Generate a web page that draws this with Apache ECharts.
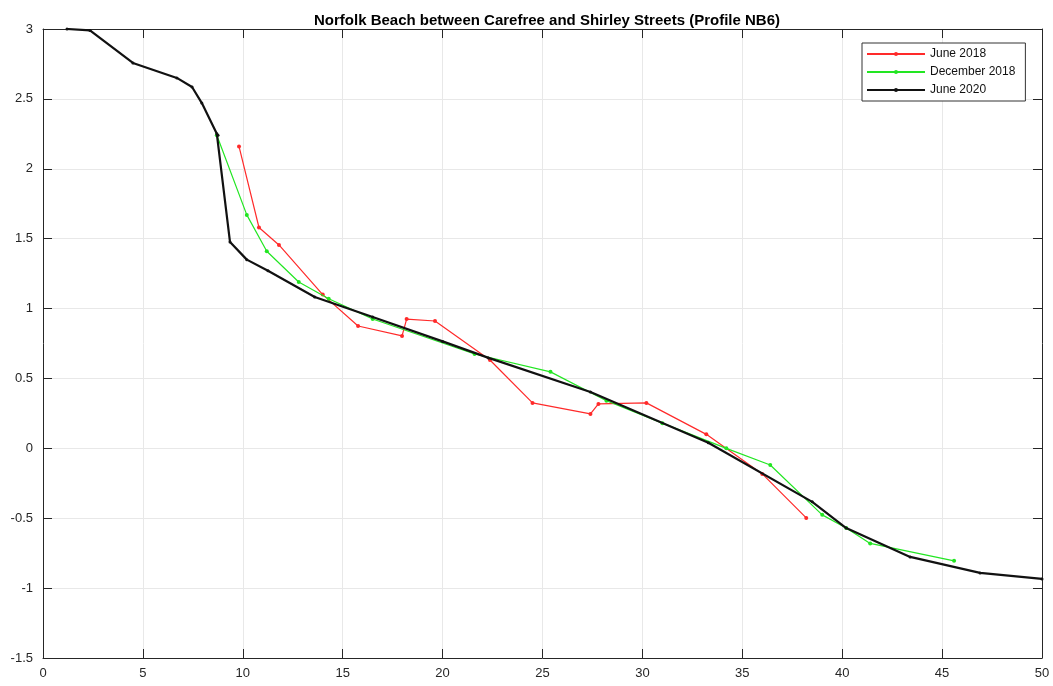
<!DOCTYPE html>
<html>
<head>
<meta charset="utf-8">
<script src="https://cdn.jsdelivr.net/npm/echarts@6/dist/echarts.min.js"></script>
<style>
    html, body { margin: 0; padding: 0; background: #fff; }
    #main { width: 1053px; height: 686px; }
</style>
</head>
<body>
<div id="main"></div>
<script>
    // June 2018
    var juneX18 = [9.81, 10.81, 11.81, 14.0, 15.77, 17.97, 18.2, 19.62, 22.37, 24.5, 27.4, 27.8, 30.2, 33.2, 36.0, 38.2];
    var juneY18 = [2.16, 1.58, 1.455, 1.10, 0.875, 0.804, 0.925, 0.911, 0.632, 0.325, 0.246, 0.318, 0.325, 0.10, -0.183, -0.498];
    // December 2018
    var decX18 = [8.7, 10.2, 11.2, 12.8, 14.3, 16.5, 21.6, 25.4, 28.2, 31.0, 34.2, 36.4, 39.0, 40.2, 41.4, 45.6];
    var decY18 = [2.24, 1.67, 1.41, 1.19, 1.07, 0.925, 0.675, 0.547, 0.34, 0.18, 0.0, -0.119, -0.476, -0.57, -0.68, -0.805];
    // June 2020
    var juneX20 = [1.2, 2.35, 4.5, 6.7, 7.46, 7.95, 8.7, 8.76, 9.36, 10.2, 11.26, 13.6, 16.5, 20.0, 22.3, 27.4, 33.3, 38.5, 40.2, 43.4, 46.9, 50.0];
    var juneY20 = [3.0, 2.99, 2.757, 2.65, 2.585, 2.47, 2.25, 2.24, 1.476, 1.35, 1.27, 1.083, 0.94, 0.765, 0.647, 0.403, 0.04, -0.383, -0.57, -0.777, -0.891, -0.934];

    function pairs(xs, ys) {
        var out = [];
        for (var i = 0; i < xs.length; i++) out.push([xs[i], ys[i]]);
        return out;
    }

    var axisColor = '#262626';
    var gridColor = '#e8e8e8';

    var myChart = echarts.init(document.getElementById('main'));
    var option = {
        animation: false,
        title: {
            text: 'Norfolk Beach between Carefree and Shirley Streets (Profile NB6)',
            left: 542,
            textAlign: 'center',
            top: 8,
            textStyle: { fontFamily: 'Liberation Sans', fontSize: 15, fontWeight: 'bold', color: '#000' }
        },
        legend: {
            orient: 'vertical',
            left: 862,
            top: 43,
            padding: [5, 10, 5, 4],
            itemGap: 6,
            itemWidth: 58,
            itemHeight: 5,
            borderColor: '#333',
            borderWidth: 1,
            backgroundColor: '#fff',
            textStyle: { fontFamily: 'Liberation Sans', fontSize: 12, color: '#111' },
            data: ['June 2018', 'December 2018', 'June 2020']
        },
        grid: { left: 43, right: 11, top: 29, bottom: 28, containLabel: false },
        xAxis: [{
            type: 'value', min: 0, max: 50, interval: 5,
            axisLine: { onZero: false, lineStyle: { color: axisColor } },
            axisTick: { inside: true, length: 9, lineStyle: { color: axisColor } },
            axisLabel: { fontFamily: 'Liberation Sans', fontSize: 13, color: axisColor, margin: 9 },
            splitLine: { show: true, lineStyle: { color: gridColor } }
        }, {
            type: 'value', min: 0, max: 50, interval: 5, position: 'top',
            axisLine: { show: true, onZero: false, lineStyle: { color: axisColor } },
            axisTick: { inside: true, length: 9, lineStyle: { color: axisColor } },
            axisLabel: { show: false },
            splitLine: { show: false }
        }],
        yAxis: [{
            type: 'value', min: -1.5, max: 3, interval: 0.5,
            axisLine: { show: true, onZero: false, lineStyle: { color: axisColor } },
            axisTick: { show: true, inside: true, length: 9, lineStyle: { color: axisColor } },
            axisLabel: { fontFamily: 'Liberation Sans', fontSize: 13, color: axisColor, margin: 10 },
            splitLine: { show: true, lineStyle: { color: gridColor } }
        }, {
            type: 'value', min: -1.5, max: 3, interval: 0.5, position: 'right',
            axisLine: { show: true, onZero: false, lineStyle: { color: axisColor } },
            axisTick: { show: true, inside: true, length: 9, lineStyle: { color: axisColor } },
            axisLabel: { show: false },
            splitLine: { show: false }
        }],
        series: [
            {
                name: 'June 2018', type: 'line', data: pairs(juneX18, juneY18),
                symbol: 'circle', symbolSize: 4,
                itemStyle: { color: '#ff2a2a' },
                lineStyle: { color: '#ff2a2a', width: 1.2 },
                z: 3
            },
            {
                name: 'December 2018', type: 'line', data: pairs(decX18, decY18),
                symbol: 'circle', symbolSize: 4,
                itemStyle: { color: '#22e622' },
                lineStyle: { color: '#22e622', width: 1.2 },
                z: 4
            },
            {
                name: 'June 2020', type: 'line', data: pairs(juneX20, juneY20),
                symbol: 'circle', symbolSize: 3,
                itemStyle: { color: '#111' },
                lineStyle: { color: '#111', width: 2.2 },
                z: 5
            }
        ]
    };
    myChart.setOption(option);
</script>
</body>
</html>
